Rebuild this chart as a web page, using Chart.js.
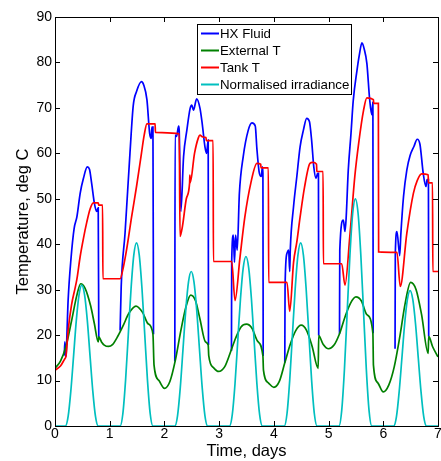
<!DOCTYPE html>
<html lang="en">
<head>
<meta charset="UTF-8">
<title>Temperature, deg C</title>
<script src="https://cdn.jsdelivr.net/npm/chart.js"></script>
<style>
    html, body { margin: 0; padding: 0; background: #fff; }
</style>
</head>
<body>
<canvas id="graph" width="441" height="461"></canvas>
<script>
    // HX fluid temperature (days, deg C); null where it lies under the external T line at night
    const hxTime = [0, 0.1, 0.17, 0.18, 0.19, 0.2, 0.24, 0.29, 0.35, 0.4, 0.46, 0.52, 0.59, 0.63, 0.67, 0.72, 0.76, 0.79,
        0.8, 0.85, 0.9, 0.98, 1.05, 1.15, 1.19, 1.21, 1.28, 1.37, 1.43, 1.49, 1.58, 1.62, 1.68, 1.73, 1.76, 1.77, 1.79,
        1.8, 1.81, 1.9, 2.0, 2.1, 2.19, 2.195, 2.22, 2.26, 2.27, 2.3, 2.35, 2.41, 2.47, 2.5, 2.53, 2.59, 2.65, 2.69, 2.74, 2.77, 2.8,
        2.805, 2.81, 2.9, 2.99, 3.1, 3.2, 3.225, 3.23, 3.26, 3.28, 3.3, 3.33, 3.37, 3.44, 3.53, 3.6, 3.66, 3.69, 3.73, 3.77, 3.79, 3.8,
        3.805, 3.81, 3.9, 4.0, 4.1, 4.2, 4.205, 4.24, 4.27, 4.29, 4.3, 4.36, 4.42, 4.48, 4.54, 4.6, 4.65, 4.69, 4.73, 4.77, 4.8, 4.815,
        4.82, 4.9, 5.0, 5.1, 5.2, 5.205, 5.27, 5.3, 5.32, 5.36, 5.41, 5.45, 5.52, 5.56, 5.61, 5.65, 5.7, 5.75, 5.79, 5.81,
        5.815, 5.82, 5.9, 6.0, 6.1, 6.2, 6.215, 6.22, 6.25, 6.3, 6.32, 6.37, 6.43, 6.49, 6.56, 6.62, 6.67, 6.73, 6.78, 6.8, 6.825,
        6.83, 6.9, 7.0];
    const hxTemp = [null, null, 15.5, 18.5, 15.3, 15.5, 27.7, 36.5, 43.5, 46, 51.2, 54.5, 57, 56.5, 53.4, 49, 47.2, 48,
        19.6, null, null, null, null, null, 21, 30.7, 42.4, 60, 70.5, 73.6, 75.8, 75.1, 71.8, 64.4, 63.3, 65.8, 65.8,
        20.2, null, null, null, null, 14.2, 64, 63.7, 66, 65, 47.2, 59.3, 65.1, 69.9, 70.6, 69.5, 72, 69.9, 66.6, 61.5, 60, 62.9,
        17.8, null, null, null, null, null, 16.5, 36.5, 42, 36, 42, 38.7, 51.2, 59.3, 65, 66.7, 66, 61, 56, 54.9, 57, 55.6,
        15.4, null, null, null, null, 13.9, 30.7, 38, 38.7, 34, 38.7, 48.3, 54.9, 61.5, 65.1, 67.7, 67, 62.9, 57, 54.5, 55.6, 55.6,
        19.9, null, null, null, 20.3, 38.7, 45.3, 42.8, 45.5, 56.3, 64.4, 71.5, 78.3, 81.5, 84.3, 83, 79.8, 72, 68.5, 71.3,
        20.4, null, null, null, null, null, 17, 38, 42.8, 37.5, 42, 50.5, 56.3, 59.5, 61.5, 63.1, 62, 55.6, 52.7, 54.2, 54.2,
        19.7, null, null];

    // External temperature
    const extTime = [0, 0.1, 0.2, 0.3, 0.4, 0.47, 0.55, 0.65, 0.72, 0.79, 0.8, 0.85, 0.9, 0.98, 1.05, 1.15, 1.25, 1.35, 1.48,
        1.6, 1.7, 1.79, 1.81, 1.9, 2.0, 2.1, 2.2, 2.3, 2.4, 2.48, 2.57, 2.65, 2.75, 2.8, 2.81, 2.9, 2.99, 3.1, 3.2, 3.3, 3.4,
        3.5, 3.6, 3.7, 3.8, 3.81, 3.9, 4.0, 4.1, 4.2, 4.3, 4.4, 4.5, 4.6, 4.7, 4.81, 4.82, 4.9, 5.0, 5.1, 5.2, 5.3, 5.4, 5.5,
        5.6, 5.7, 5.81, 5.82, 5.9, 6.0, 6.1, 6.2, 6.3, 6.4, 6.5, 6.6, 6.7, 6.82, 6.83, 6.9, 7.0];
    const extTemp = [12.7, 14.3, 17.5, 23, 28.8, 31.3, 30.3, 26.5, 22.5, 18.5, 19.6, 18.5, 17.8, 17.5, 17.9, 19.8, 22.2, 24.8, 26.4,
        25, 22.5, 20.2, 13.4, 10, 8.3, 9.8, 14.5, 21, 26.5, 28.8, 27.5, 23.5, 18.5, 17.8, 15.5, 12.8, 12, 13, 16, 19.3, 21.8,
        22.4, 21.5, 18.7, 15.4, 12.3, 9.5, 8.5, 9.8, 13.9, 18, 21, 22.2, 21, 17.5, 12.7, 19.9, 18, 17, 17.8, 20.3, 24, 27, 28.4,
        27.5, 24.5, 20.4, 13.4, 9.5, 7.5, 9, 13, 19.5, 27, 31.6, 30, 24.5, 16, 19.7, 17.5, 15.2];

    // Tank temperature
    const tankTime = [0, 0.1, 0.18, 0.2, 0.24, 0.3, 0.37, 0.4, 0.46, 0.52, 0.58, 0.64, 0.7, 0.79, 0.8, 0.87, 0.875,
        1.19, 1.25, 1.31, 1.4, 1.49, 1.58, 1.63, 1.68, 1.83, 1.835, 2.27, 2.285, 2.33, 2.4, 2.46, 2.465, 2.47, 2.55, 2.62,
        2.65, 2.7, 2.76, 2.765, 2.89, 2.895, 3.23, 3.29, 3.38, 3.47, 3.58, 3.69, 3.76, 3.765, 3.9, 3.905, 4.24, 4.29, 4.36,
        4.42, 4.48, 4.56, 4.66, 4.71, 4.78, 4.785, 4.9, 4.905, 5.24, 5.3, 5.39, 5.48, 5.55, 5.64, 5.7, 5.82, 5.825, 5.91,
        5.915, 6.25, 6.31, 6.43, 6.55, 6.62, 6.7, 6.82, 6.825, 6.9, 6.905, 7.0];
    const tankTemp = [12.3, 13.2, 14.8, 15.3, 21, 26.5, 30.5, 32.3, 37.3, 41.3, 44.8, 47.7, 49.1, 49.1, 48.6, 48.6, 32.4,
        32.4, 35, 38.9, 46, 52.7, 60, 64, 66.5, 66.5, 64.6, 64.3, 41.7, 44, 50, 53.5, 55.2, 53.5, 60, 63.4,
        64, 63.6, 63.5, 62.8, 62.8, 36.2, 36.2, 27.6, 37, 46, 53.5, 57.8, 57.6, 56.8, 56.8, 31.6, 31.6, 25.2, 36,
        40.5, 46, 52.5, 57.8, 58, 57.6, 56, 56, 35.7, 35.7, 31, 42, 55, 62.2, 69.5, 72.2, 71.8, 71, 71,
        38.3, 38.2, 30.7, 42.4, 51.2, 54, 55.5, 55.3, 53.5, 53.5, 34, 34];

    // Normalised irradiance
    const irrTime = [0,
        0.19, 0.24, 0.29, 0.34, 0.39, 0.44, 0.49, 0.54, 0.59, 0.64, 0.69, 0.74, 0.79,
        1.19, 1.24, 1.29, 1.34, 1.39, 1.44, 1.49, 1.54, 1.59, 1.64, 1.69, 1.74, 1.79,
        2.19, 2.24, 2.29, 2.34, 2.39, 2.44, 2.49, 2.54, 2.59, 2.64, 2.69, 2.74, 2.79,
        3.19, 3.24, 3.29, 3.34, 3.39, 3.44, 3.49, 3.54, 3.59, 3.64, 3.69, 3.74, 3.79,
        4.19, 4.24, 4.29, 4.34, 4.39, 4.44, 4.49, 4.54, 4.59, 4.64, 4.69, 4.74, 4.79,
        5.19, 5.24, 5.29, 5.34, 5.39, 5.44, 5.49, 5.54, 5.59, 5.64, 5.69, 5.74, 5.79,
        6.19, 6.24, 6.29, 6.34, 6.39, 6.44, 6.49, 6.54, 6.59, 6.64, 6.69, 6.74, 6.79,
        7.0];
    const irrValue = [0,
        0, 2.1, 7.8, 15.5, 23.3, 28.9, 31, 28.9, 23.3, 15.5, 7.8, 2.1, 0,
        0, 2.7, 10.1, 20.2, 30.2, 37.6, 40.3, 37.6, 30.2, 20.2, 10.1, 2.7, 0,
        0, 2.3, 8.5, 17, 25.5, 31.7, 34, 31.7, 25.5, 17, 8.5, 2.3, 0,
        0, 2.5, 9.3, 18.7, 28, 34.8, 37.3, 34.8, 28, 18.7, 9.3, 2.5, 0,
        0, 2.7, 10.1, 20.2, 30.2, 37.6, 40.3, 37.6, 30.2, 20.2, 10.1, 2.7, 0,
        0, 3.4, 12.5, 25, 37.5, 46.7, 50, 46.7, 37.5, 25, 12.5, 3.4, 0,
        0, 2, 7.5, 14.9, 22.4, 27.8, 29.8, 27.8, 22.4, 14.9, 7.5, 2, 0,
        0];

    const seriesNames = ["HX Fluid", "External T", "Tank T", "Normalised irradiance"];
    const seriesColors = ["#0000ff", "#008000", "#ff0000", "#00bfbf"];

    function toPoints(xs, ys) {
        return xs.map((x, i) => ({ x: x, y: ys[i] }));
    }

    const FONT = "'Liberation Sans', Arial, Helvetica, sans-serif";
    Chart.defaults.font.family = FONT;
    Chart.defaults.color = "#000";

    // box around the plot, inward ticks and the framed legend (MATLAB look)
    const framePlugin = {
        id: "frame",
        afterDraw(chart) {
            const ctx = chart.ctx;
            const a = chart.chartArea;
            const xs = chart.scales.x, ys = chart.scales.y;
            ctx.save();
            ctx.strokeStyle = "#000";
            ctx.lineWidth = 1;
            ctx.strokeRect(a.left + 0.5, a.top + 0.5, a.right - a.left, a.bottom - a.top);
            ctx.beginPath();
            xs.ticks.forEach(t => {
                const px = Math.round(xs.getPixelForValue(t.value)) + 0.5;
                ctx.moveTo(px, a.bottom); ctx.lineTo(px, a.bottom - 5);
                ctx.moveTo(px, a.top); ctx.lineTo(px, a.top + 5);
            });
            ys.ticks.forEach(t => {
                const py = Math.round(ys.getPixelForValue(t.value)) + 0.5;
                ctx.moveTo(a.left, py); ctx.lineTo(a.left + 5, py);
                ctx.moveTo(a.right, py); ctx.lineTo(a.right - 5, py);
            });
            ctx.stroke();

            // legend
            const bx = 197.5, by = 24.5, bw = 154, bh = 70;
            ctx.fillStyle = "#fff";
            ctx.fillRect(bx, by, bw, bh);
            ctx.strokeRect(bx, by, bw, bh);
            ctx.font = "13.3px " + FONT;
            ctx.textBaseline = "middle";
            ctx.textAlign = "left";
            seriesNames.forEach((name, i) => {
                const ry = 33.5 + i * 17;
                ctx.strokeStyle = seriesColors[i];
                ctx.lineWidth = 2;
                ctx.beginPath();
                ctx.moveTo(201, ry); ctx.lineTo(219, ry);
                ctx.stroke();
                ctx.fillStyle = "#000";
                ctx.fillText(name, 220, ry + 0.5);
            });
            ctx.restore();
        }
    };

    const lineStyle = { showLine: true, pointRadius: 0, borderWidth: 1.7, fill: false,
        cubicInterpolationMode: "monotone", spanGaps: false };

    new Chart(document.getElementById("graph"), {
        type: "scatter",
        data: {
            datasets: [
                Object.assign({ label: seriesNames[0], data: toPoints(hxTime, hxTemp),
                    borderColor: seriesColors[0], order: 4 }, lineStyle),
                Object.assign({ label: seriesNames[1], data: toPoints(extTime, extTemp),
                    borderColor: seriesColors[1], order: 3 }, lineStyle),
                Object.assign({ label: seriesNames[2], data: toPoints(tankTime, tankTemp),
                    borderColor: seriesColors[2], order: 2 }, lineStyle),
                Object.assign({ label: seriesNames[3], data: toPoints(irrTime, irrValue),
                    borderColor: seriesColors[3], order: 1 }, lineStyle)
            ]
        },
        options: {
            responsive: false,
            animation: false,
            devicePixelRatio: 1,
            layout: { padding: { top: 17, right: 3, left: 0, bottom: 0 } },
            plugins: {
                legend: { display: false },
                tooltip: { enabled: false }
            },
            scales: {
                x: {
                    type: "linear",
                    min: 0, max: 7,
                    grid: { display: false, drawTicks: false },
                    border: { display: false },
                    ticks: { stepSize: 1, padding: 0, font: { size: 14 }, color: "#000", maxRotation: 0 },
                    title: { display: true, text: "Time, days", font: { size: 16.5 }, color: "#000", padding: 0 },
                    afterFit(scale) {
                        scale.height = 35;
                        scale.paddingLeft = 0;
                        scale.paddingRight = 0;
                    }
                },
                y: {
                    min: 0, max: 90,
                    grid: { display: false, drawTicks: false },
                    border: { display: false },
                    ticks: { stepSize: 10, padding: 3, font: { size: 14 }, color: "#000" },
                    title: { display: true, text: "Temperature, deg C", font: { size: 16.5 }, color: "#000",
                        padding: { top: 14, bottom: 0 } },
                    afterFit(scale) {
                        scale.width = 55;
                        scale.paddingTop = 0;
                        scale.paddingBottom = 0;
                    }
                }
            }
        },
        plugins: [framePlugin]
    });
</script>
</body>
</html>
